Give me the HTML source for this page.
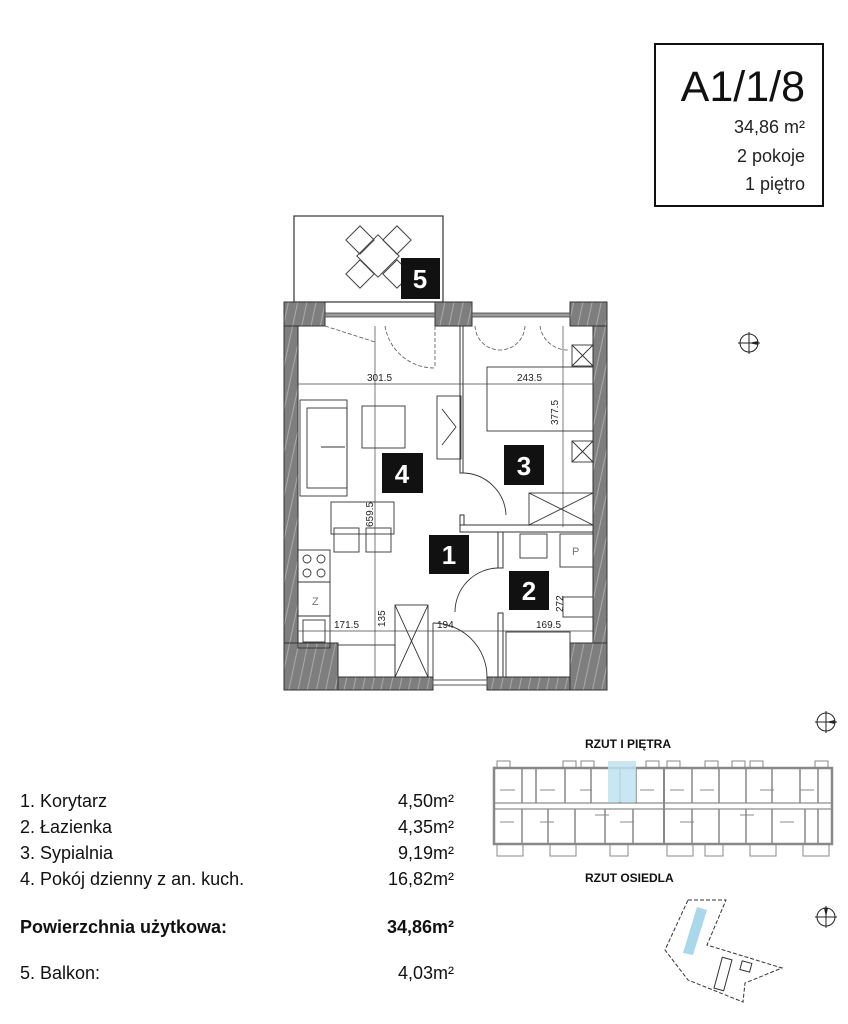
<!DOCTYPE html>
<html><head><meta charset="utf-8"><style>
html,body{margin:0;padding:0;background:#fff;}
svg{display:block}
text{font-family:"Liberation Sans","DejaVu Sans",sans-serif;}
</style></head><body>
<svg width="848" height="1024" viewBox="0 0 848 1024" xmlns="http://www.w3.org/2000/svg">
<defs>
<pattern id="h" width="9" height="30" patternUnits="userSpaceOnUse" patternTransform="rotate(12)">
<rect width="9" height="30" fill="#7e7e7e"/><line x1="3" y1="0" x2="3" y2="30" stroke="#b5b5b5" stroke-width="0.8"/>
</pattern>
</defs>
<rect width="848" height="1024" fill="#fff"/>
<!-- Title box -->
<rect x="655" y="44" width="168" height="162" fill="none" stroke="#111" stroke-width="2"/>
<text x="805" y="101" font-size="43" text-anchor="end" fill="#111">A1/1/8</text>
<text x="805" y="133" font-size="18" text-anchor="end" fill="#222">34,86 m²</text>
<text x="805" y="162" font-size="18" text-anchor="end" fill="#222">2 pokoje</text>
<text x="805" y="190" font-size="18" text-anchor="end" fill="#222">1 piętro</text>

<!-- balcony -->
<rect x="294" y="216" width="149" height="86" fill="#fff" stroke="#333" stroke-width="1.2"/>
<g fill="none" stroke="#444" stroke-width="1">
<rect x="350" y="230" width="20" height="20" transform="rotate(45 360 240)"/>
<rect x="387" y="230" width="20" height="20" transform="rotate(45 397 240)"/>
<rect x="350" y="264" width="20" height="20" transform="rotate(45 360 274)"/>
<rect x="387" y="264" width="20" height="20" transform="rotate(45 397 274)"/>
<rect x="363" y="241" width="30" height="30" transform="rotate(45 378 256)"/>
</g>
<rect x="298" y="326" width="295" height="352" fill="#fff"/>
<g fill="url(#h)" stroke="#333" stroke-width="1">
<rect x="284" y="302" width="14" height="388"/>
<rect x="593" y="302" width="14" height="388"/>
<rect x="284" y="302" width="41" height="24"/>
<rect x="435" y="302" width="37" height="24"/>
<rect x="570" y="302" width="37" height="24"/>
<rect x="284" y="643" width="54" height="47"/>
<rect x="570" y="643" width="37" height="47"/>
<rect x="338" y="677" width="95" height="13"/>
<rect x="487" y="677" width="83" height="13"/>
</g>
<g fill="#9a9a9a" stroke="#444" stroke-width="0.8">
<rect x="325" y="313" width="110" height="4"/>
<rect x="472" y="313" width="98" height="4"/>
</g>
<rect x="433" y="680" width="54" height="5" fill="none" stroke="#555"/>
<g fill="#fff" stroke="#333" stroke-width="1">
<rect x="460" y="326" width="3" height="147"/>
<rect x="460" y="525" width="133" height="7"/>
<rect x="498" y="532" width="5" height="36"/>
<rect x="498" y="613" width="5" height="64"/>
<rect x="460" y="515" width="4" height="10"/>
</g>
<g fill="none" stroke="#555" stroke-width="0.8" stroke-dasharray="4 2">
<path d="M385 326 A50 50 0 0 0 435 368"/>
<line x1="435" y1="326" x2="435" y2="368"/>
<line x1="325" y1="326" x2="375" y2="342"/>
<path d="M475 326 A25 25 0 0 0 500 350"/>
<path d="M525 326 A25 25 0 0 1 500 350"/>
<path d="M540 326 A28 28 0 0 0 568 350"/>
</g>
<g fill="none" stroke="#333" stroke-width="0.9">
<path d="M463 473 A44 44 0 0 1 506 515"/>
<path d="M498 568 A44 44 0 0 0 455 612"/>
<path d="M487 677 A54 54 0 0 0 433 623"/>
<line x1="433" y1="623" x2="433" y2="677"/>
<rect x="300" y="400" width="47" height="96"/>
<rect x="307" y="408" width="40" height="80"/>
<line x1="321" y1="447" x2="345" y2="447"/>
<rect x="362" y="406" width="43" height="42"/>
<rect x="437" y="396" width="24" height="63"/>
<polyline points="442,409 456,427 442,445"/>
<rect x="331" y="502" width="63" height="32"/>
<rect x="334" y="528" width="25" height="24"/>
<rect x="366" y="528" width="25" height="24"/>
<rect x="298" y="550" width="32" height="32"/>
<circle cx="307" cy="559" r="4"/><circle cx="321" cy="559" r="4"/>
<circle cx="307" cy="573" r="4"/><circle cx="321" cy="573" r="4"/>
<rect x="298" y="582" width="32" height="34"/>
<rect x="298" y="616" width="32" height="32"/>
<rect x="303" y="620" width="22" height="22"/>
<rect x="338" y="645" width="57" height="32"/>
<rect x="395" y="605" width="33" height="72"/>
<line x1="395" y1="605" x2="428" y2="677"/><line x1="428" y1="605" x2="395" y2="677"/>
<rect x="487" y="367" width="106" height="64"/>
<rect x="572" y="345" width="21" height="21"/>
<line x1="572" y1="345" x2="593" y2="366"/><line x1="593" y1="345" x2="572" y2="366"/>
<rect x="572" y="441" width="21" height="21"/>
<line x1="572" y1="441" x2="593" y2="462"/><line x1="593" y1="441" x2="572" y2="462"/>
<rect x="529" y="493" width="64" height="32"/>
<line x1="529" y1="493" x2="593" y2="525"/><line x1="593" y1="493" x2="529" y2="525"/>
<rect x="520" y="534" width="27" height="24"/>
<rect x="560" y="534" width="33" height="33"/>
<rect x="563" y="597" width="30" height="20"/>
<rect x="506" y="632" width="64" height="45"/>
</g>
<text x="312" y="605" font-size="11" fill="#777">Z</text>
<text x="572" y="555" font-size="11" fill="#777">P</text>
<g stroke="#444" stroke-width="0.7" fill="none">
<line x1="298" y1="384" x2="593" y2="384"/>
<line x1="298" y1="631" x2="593" y2="631"/>
<line x1="375" y1="326" x2="375" y2="678"/>
<line x1="563" y1="326" x2="563" y2="527"/>
</g>
<g font-size="10" fill="#222">
<text x="367" y="381">301.5</text>
<text x="517" y="381">243.5</text>
<text x="334" y="628">171.5</text>
<text x="437" y="628">194</text>
<text x="536" y="628">169.5</text>
<text transform="translate(558 425) rotate(-90)">377.5</text>
<text transform="translate(373 527) rotate(-90)">659.5</text>
<text transform="translate(385 627) rotate(-90)">135</text>
<text transform="translate(563 612) rotate(-90)">272</text>
</g>
<g font-size="26" font-weight="bold" fill="#fff" text-anchor="middle">
<rect x="401" y="258" width="39" height="41" fill="#111"/><text x="420" y="288">5</text>
<rect x="382" y="453" width="41" height="40" fill="#111"/><text x="402" y="483">4</text>
<rect x="504" y="445" width="40" height="40" fill="#111"/><text x="524" y="475">3</text>
<rect x="429" y="535" width="40" height="39" fill="#111"/><text x="449" y="564">1</text>
<rect x="509" y="571" width="40" height="39" fill="#111"/><text x="529" y="600">2</text>
</g>
<g fill="none" stroke="#222" stroke-width="1">
<circle cx="749" cy="343" r="9"/><line x1="738" y1="343" x2="760" y2="343"/><line x1="749" y1="332" x2="749" y2="354"/>
<circle cx="826" cy="722" r="9"/><line x1="815" y1="722" x2="837" y2="722"/><line x1="826" y1="711" x2="826" y2="733"/>
<circle cx="826" cy="917" r="9"/><line x1="815" y1="917" x2="837" y2="917"/><line x1="826" y1="906" x2="826" y2="928"/>
</g>
<polygon points="749,343 758,341 758,345" fill="#222"/>
<polygon points="826,722 835,720 835,724" fill="#222"/>
<polygon points="826,917 824,908 828,908" fill="#222"/>
<g font-size="18" fill="#111">
<text x="20" y="807">1. Korytarz</text><text x="454" y="807" text-anchor="end">4,50m²</text>
<text x="20" y="833">2. Łazienka</text><text x="454" y="833" text-anchor="end">4,35m²</text>
<text x="20" y="859">3. Sypialnia</text><text x="454" y="859" text-anchor="end">9,19m²</text>
<text x="20" y="885">4. Pokój dzienny z an. kuch.</text><text x="454" y="885" text-anchor="end">16,82m²</text>
<text x="20" y="933" font-weight="bold">Powierzchnia użytkowa:</text><text x="454" y="933" text-anchor="end" font-weight="bold">34,86m²</text>
<text x="20" y="979">5. Balkon:</text><text x="454" y="979" text-anchor="end">4,03m²</text>
</g>
<text x="585" y="748" font-size="12" font-weight="bold" fill="#111">RZUT I PIĘTRA</text>
<text x="585" y="882" font-size="12" font-weight="bold" fill="#111">RZUT OSIEDLA</text>
<g fill="none" stroke="#888" stroke-width="1">
<rect x="494" y="768" width="338" height="76" stroke-width="2.5"/>
<rect x="494" y="803" width="338" height="6" stroke-width="1.2"/>
<line x1="664" y1="768" x2="664" y2="844" stroke-width="2"/>
<path d="M522 768v35M536 768v35M565 768v35M591 768v35M620 768v35M636 768v35M692 768v35M719 768v35M746 768v35M772 768v35M800 768v35M818 768v35" stroke-width="1.5"/>
<path d="M522 809v35M548 809v35M575 809v35M605 809v35M633 809v35M692 809v35M719 809v35M746 809v35M772 809v35M805 809v35M818 809v35" stroke-width="1.5"/>
<path d="M500 790h15M540 790h15M580 790h12M640 790h14M670 790h14M700 790h14M760 790h14M800 790h14M500 822h14M540 822h14M595 815h14M620 822h14M680 822h14M740 815h14M780 822h14"/>
<rect x="497" y="761" width="13" height="7"/><rect x="563" y="761" width="13" height="7"/><rect x="581" y="761" width="13" height="7"/>
<rect x="646" y="761" width="13" height="7"/><rect x="667" y="761" width="13" height="7"/><rect x="705" y="761" width="13" height="7"/>
<rect x="732" y="761" width="13" height="7"/><rect x="750" y="761" width="13" height="7"/><rect x="815" y="761" width="13" height="7"/>
<rect x="497" y="844" width="26" height="12"/><rect x="550" y="844" width="26" height="12"/><rect x="610" y="844" width="18" height="12"/>
<rect x="667" y="844" width="26" height="12"/><rect x="705" y="844" width="18" height="12"/><rect x="750" y="844" width="26" height="12"/><rect x="803" y="844" width="26" height="12"/>
</g>
<rect x="608" y="761" width="28" height="41" fill="#bfe3f0" opacity="0.85"/>
<polygon points="688,900 726,900 707,945 782,968 745,983 743,1002 688,980 665,950" fill="none" stroke="#333" stroke-width="1" stroke-dasharray="4 2"/>
<polygon points="697,907 707,910 693,955 683,953" fill="#a8d8ea"/>
<rect x="718" y="958" width="10" height="32" fill="none" stroke="#333" transform="rotate(15 723 974)"/>
<rect x="741" y="962" width="10" height="9" fill="none" stroke="#333" transform="rotate(15 746 966)"/>
</svg>
</body></html>
